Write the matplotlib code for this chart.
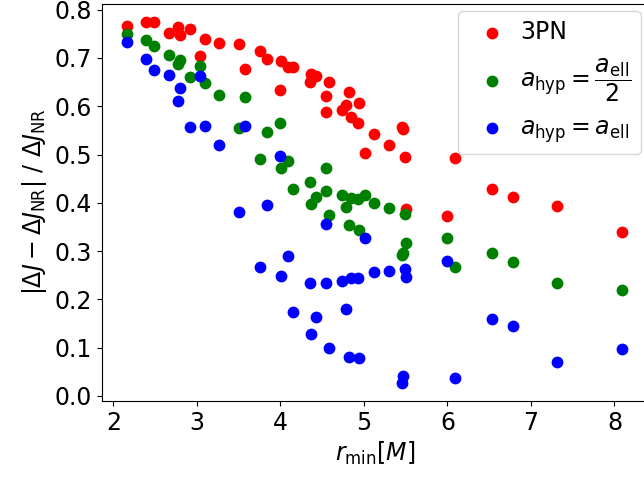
import matplotlib
matplotlib.use("Agg")
import matplotlib.pyplot as plt

# r_min values shared by all three series
r_min = [2.16, 2.39, 2.49, 2.67, 2.77, 2.80, 2.92, 3.04, 3.10, 3.27,
         3.50, 3.58, 3.75, 3.84, 3.99, 4.01, 4.09, 4.15, 4.35, 4.37,
         4.42, 4.54, 4.55, 4.58, 4.74, 4.78, 4.82, 4.85, 4.93, 4.94,
         5.01, 5.12, 5.30, 5.46, 5.47, 5.49, 5.50, 6.00, 6.09, 6.53,
         6.78, 7.31, 8.09]

err_3pn = [0.767, 0.775, 0.775, 0.752, 0.764, 0.748, 0.759, 0.705, 0.740, 0.731,
           0.729, 0.678, 0.714, 0.698, 0.634, 0.693, 0.682, 0.682, 0.651, 0.667,
           0.662, 0.587, 0.621, 0.651, 0.593, 0.603, 0.629, 0.578, 0.565, 0.607,
           0.504, 0.542, 0.519, 0.558, 0.553, 0.495, 0.387, 0.373, 0.493, 0.428,
           0.412, 0.394, 0.339]

err_half = [0.750, 0.738, 0.725, 0.707, 0.688, 0.695, 0.660, 0.684, 0.649, 0.624,
            0.555, 0.619, 0.491, 0.547, 0.565, 0.472, 0.486, 0.428, 0.443, 0.397,
            0.413, 0.472, 0.425, 0.375, 0.417, 0.391, 0.354, 0.410, 0.407, 0.344,
            0.416, 0.399, 0.389, 0.291, 0.297, 0.377, 0.316, 0.327, 0.267, 0.296,
            0.278, 0.234, 0.220]

err_full = [0.732, 0.698, 0.676, 0.664, 0.610, 0.638, 0.558, 0.663, 0.560, 0.520,
            0.381, 0.560, 0.268, 0.396, 0.496, 0.249, 0.290, 0.174, 0.234, 0.128,
            0.163, 0.356, 0.234, 0.099, 0.239, 0.180, 0.080, 0.244, 0.245, 0.078,
            0.327, 0.256, 0.259, 0.026, 0.041, 0.263, 0.247, 0.280, 0.038, 0.159,
            0.144, 0.070, 0.097]

labels = ["3PN",
          r"$a_{\rm hyp}=\dfrac{a_{\rm ell}}{2}$",
          r"$a_{\rm hyp}=a_{\rm ell}$"]
colors = ["red", "green", "blue"]

fig = plt.figure(figsize=(6.44, 4.80), dpi=100)
ax = fig.add_axes([0.158, 0.165, 0.848, 0.827])

for ys, c, lab in zip([err_3pn, err_half, err_full], colors, labels):
    ax.scatter(r_min, ys, s=56, color=c, label=lab, zorder=2)

ax.set_xlim(1.86, 8.4)
ax.set_ylim(-0.01, 0.812)
ax.set_xticks([2, 3, 4, 5, 6, 7, 8])
ax.set_yticks([0.0, 0.1, 0.2, 0.3, 0.4, 0.5, 0.6, 0.7, 0.8])
ax.tick_params(labelsize=17)
ax.set_xlabel(r"$r_{\rm min} [M]$", fontsize=17)
ax.set_ylabel(r"$|\Delta J - \Delta J_{\rm NR}|\ /\ \Delta J_{\rm NR}$", fontsize=17)
ax.legend(loc="upper right", fontsize=17, handletextpad=0.2, borderaxespad=0.3,
          labelspacing=0.5)

fig.savefig("out.png", dpi=100)
